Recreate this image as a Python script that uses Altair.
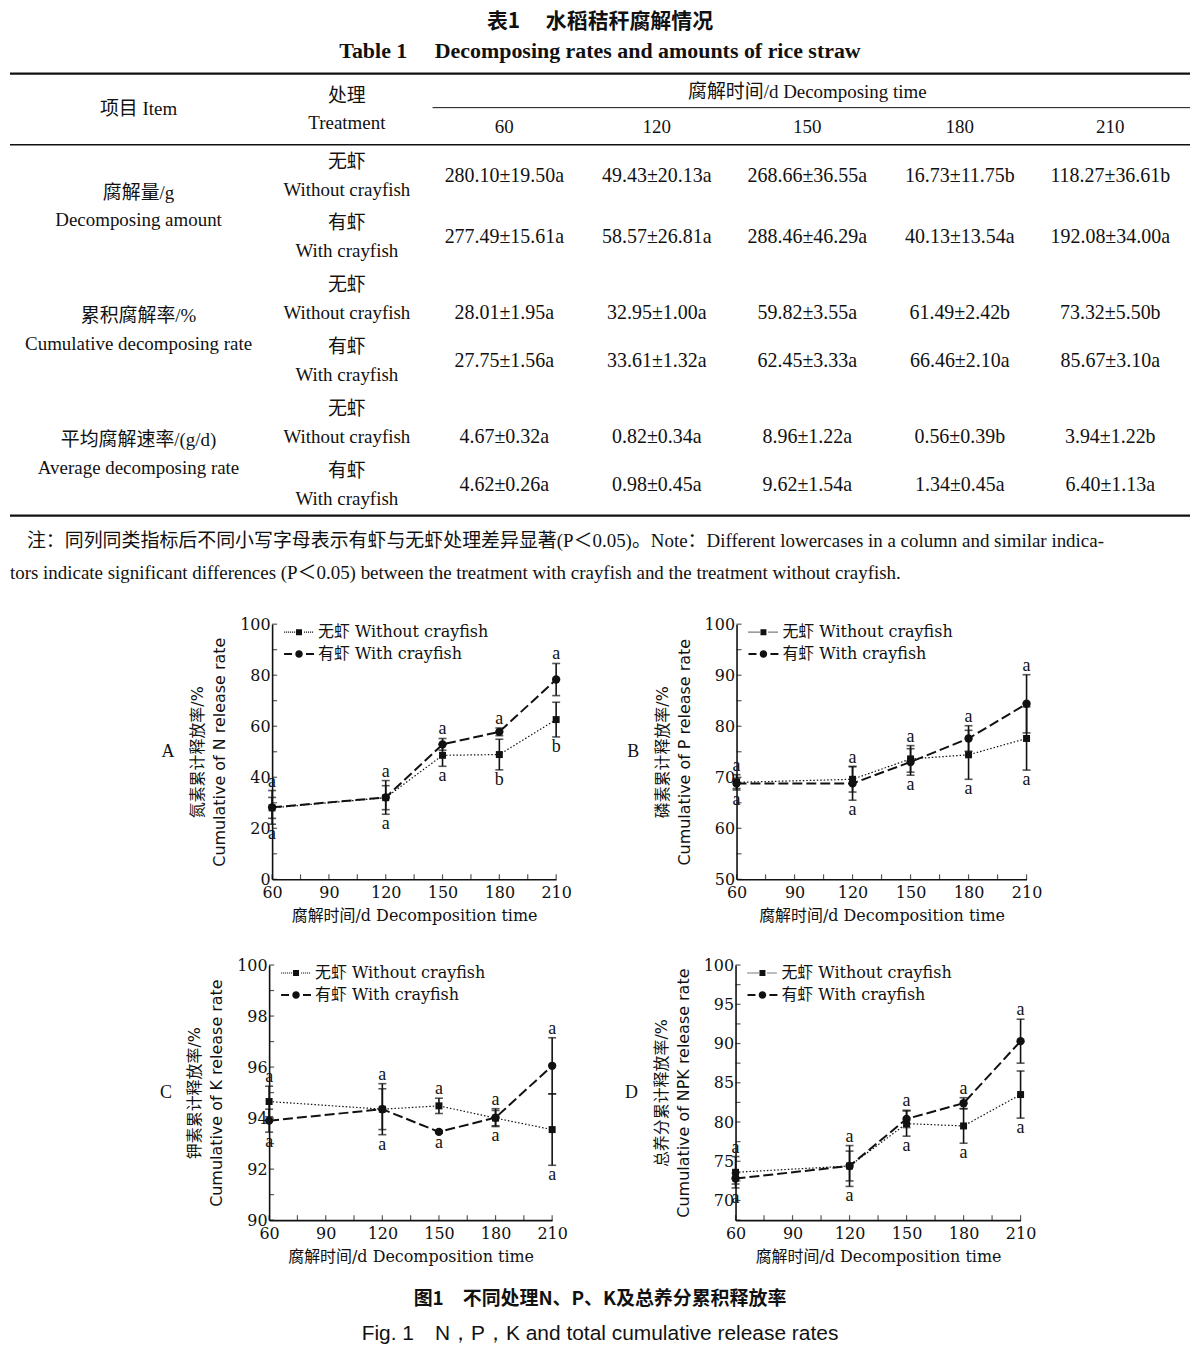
import altair as alt
import pandas as pd

# ====================== Table 1 data ======================
days = [60, 120, 150, 180, 210]
table_title_cn = "表1　 水稻秸秆腐解情况"
table_title_en = "Table 1　 Decomposing rates and amounts of rice straw"
head_item = "项目 Item"
head_treat = ["处理", "Treatment"]
head_time = "腐解时间/d Decomposing time"
item_cn = ["腐解量/g", "累积腐解率/%", "平均腐解速率/(g/d)"]
item_en = ["Decomposing amount", "Cumulative decomposing rate", "Average decomposing rate"]
treat_cn = ["无虾", "有虾"]
treat_en = ["Without crayfish", "With crayfish"]
amount_without = ["280.10±19.50a", "49.43±20.13a", "268.66±36.55a", "16.73±11.75b", "118.27±36.61b"]
amount_with = ["277.49±15.61a", "58.57±26.81a", "288.46±46.29a", "40.13±13.54a", "192.08±34.00a"]
cumrate_without = ["28.01±1.95a", "32.95±1.00a", "59.82±3.55a", "61.49±2.42b", "73.32±5.50b"]
cumrate_with = ["27.75±1.56a", "33.61±1.32a", "62.45±3.33a", "66.46±2.10a", "85.67±3.10a"]
avgrate_without = ["4.67±0.32a", "0.82±0.34a", "8.96±1.22a", "0.56±0.39b", "3.94±1.22b"]
avgrate_with = ["4.62±0.26a", "0.98±0.45a", "9.62±1.54a", "1.34±0.45a", "6.40±1.13a"]
note_line1 = "注：同列同类指标后不同小写字母表示有虾与无虾处理差异显著(P＜0.05)。Note：Different lowercases in a column and similar indica-"
note_line2 = "tors indicate significant differences (P＜0.05) between the treatment with crayfish and the treatment without crayfish."

# ====================== Figure 1 data ======================
series_names = ["无虾 Without crayfish", "有虾 With crayfish"]
# A: N
n_without = [28.0, 32.0, 48.6, 48.9, 62.6]
n_without_err = [4.1, 4.7, 4.3, 6.0, 6.8]
n_with = [28.2, 32.1, 52.9, 57.8, 78.3]
n_with_err = [6.6, 6.6, 2.3, 1.5, 6.3]
n_top_letters = ["a", "a", "a", "a", "a"]
n_bottom_letters = ["a", "a", "a", "b", "b"]
# B: P
p_without = [69.0, 69.6, 73.6, 74.4, 77.6]
p_without_err = [1.5, 2.5, 2.6, 4.8, 6.2]
p_with = [68.8, 68.8, 73.0, 77.6, 84.4]
p_with_err = [1.0, 3.3, 2.6, 2.5, 5.7]
p_top_letters = ["a", "a", "a", "a", "a"]
p_bottom_letters = ["a", "a", "a", "a", "a"]
# C: K
k_without = [94.65, 94.35, 94.48, 94.0, 93.55]
k_without_err = [0.6, 0.8, 0.3, 0.3, 1.4]
k_with = [93.9, 94.35, 93.46, 94.02, 96.05]
k_with_err = [0.45, 1.0, 0.05, 0.35, 1.1]
k_top_letters = ["a", "a", "a", "a", "a"]
k_bottom_letters = ["a", "a", "a", "a", "a"]
# D: total NPK
t_without = [73.6, 74.4, 79.8, 79.5, 83.5]
t_without_err = [2.0, 1.9, 1.6, 2.2, 3.0]
t_with = [72.8, 74.4, 80.4, 82.4, 90.3]
t_with_err = [0.7, 2.6, 1.1, 0.7, 2.8]
t_top_letters = ["a", "a", "a", "a", "a"]
t_bottom_letters = ["a", "a", "a", "a", "a"]

fig_title_cn = "图1　不同处理N、P、K及总养分累积释放率"
fig_title_en = "Fig. 1　N，P，K and total cumulative release rates"
x_title = "腐解时间/d  Decomposition time"

# ====================== styles / layout ======================
SERIF = "DejaVu Serif, Noto Sans CJK SC"
TSERIF = "Liberation Serif, Noto Sans CJK SC"
SANS = "DejaVu Sans, Noto Sans CJK SC"
CJK = "Noto Sans CJK SC"
INK = "#111111"

TABLE_W, TABLE_H = 1184, 506
ROW_TOP, ROW_BOT = -0.66, 7.5
COL_ITEM, COL_TREAT, COL_SPAN = 129, 338, 800
COL_VALUES = [496, 649, 800, 953, 1104]
COL_NOTE1, COL_NOTE2 = 17, 0
SUBRULE_X0 = 424
VALUE_ON_LOWER_LINE = [False, False, True, False, True, False]

# ---------------------- table chart ----------------------
TX = alt.X("x:Q", scale=alt.Scale(domain=[0, TABLE_W], nice=False, zero=False), axis=None)
TY = alt.Y("row:Q", scale=alt.Scale(domain=[ROW_TOP, ROW_BOT], reverse=True, nice=False, zero=False), axis=None)


def tlayer(items, dy=0, size=19, align="center", font=TSERIF, weight="normal"):
    df = pd.DataFrame(items, columns=["x", "row", "text"])
    return alt.Chart(df).mark_text(
        dy=dy, align=align, baseline="middle", font=font, fontSize=size,
        fontWeight=weight, color=INK
    ).encode(x=TX, y=TY, text="text:N")


body_values = [amount_without, amount_with, cumrate_without, cumrate_with, avgrate_without, avgrate_with]
vals_mid, vals_low = [], []
for r, vals in enumerate(body_values):
    for c, v in enumerate(vals):
        (vals_low if VALUE_ON_LOWER_LINE[r] else vals_mid).append((COL_VALUES[c], r + 1, v))

layers_t = [
    tlayer([(COL_ITEM, 0, head_item)], dy=-5),
    tlayer([(COL_TREAT, 0, head_treat[0])], dy=-18),
    tlayer([(COL_TREAT, 0, head_treat[1])], dy=9),
    tlayer([(COL_SPAN, 0, head_time)], dy=-22),
    tlayer([(COL_VALUES[i], 0, str(d)) for i, d in enumerate(days)], dy=13),
    tlayer([(COL_TREAT, r + 1, treat_cn[r % 2]) for r in range(6)], dy=-14),
    tlayer([(COL_TREAT, r + 1, treat_en[r % 2]) for r in range(6)], dy=14),
    tlayer([(COL_ITEM, 2 * g + 1.5, item_cn[g]) for g in range(3)], dy=-14),
    tlayer([(COL_ITEM, 2 * g + 1.5, item_en[g]) for g in range(3)], dy=14),
    tlayer(vals_mid, dy=0, size=20),
    tlayer(vals_low, dy=14, size=20),
    tlayer([(COL_NOTE1, 7, note_line1)], dy=-5, align="left"),
    tlayer([(COL_NOTE2, 7, note_line2)], dy=27, align="left"),
]


def rule_layer(x0, x1, row, width):
    df = pd.DataFrame({"x": [x0], "x2": [x1], "row": [row]})
    return alt.Chart(df).mark_rule(color=INK, strokeWidth=width).encode(
        x=TX, x2="x2:Q", y=TY)


layers_t += [
    rule_layer(0, TABLE_W, -0.65, 2.2),
    rule_layer(SUBRULE_X0, TABLE_W, -0.1, 1.0),
    rule_layer(0, TABLE_W, 0.5, 1.4),
    rule_layer(0, TABLE_W, 6.5, 2.2),
]

table = alt.layer(*layers_t).properties(
    width=TABLE_W, height=TABLE_H,
    title=alt.TitleParams(
        text=table_title_cn, subtitle=table_title_en, anchor="middle",
        font=CJK, fontSize=21, fontWeight="bold", color=INK,
        subtitleFont="Liberation Serif", subtitleFontSize=22, subtitleFontWeight="bold",
        subtitleColor=INK, subtitlePadding=9, offset=11,
    ),
)

# ---------------------- legend symbols (style) ----------------------

def dots(x0, x1, step=0.4, w=0.22, h=0.11):
    parts, x = [], x0
    while x <= x1 + 1e-9:
        parts.append(f"M{x:.2f},{-h:.2f}h{w}v{2 * h}h{-w}z")
        x += step
    return "".join(parts)


PATH_DOT = dots(-3.0, -1.0) + "M-0.6,-0.6h1.2v1.2h-1.2z" + dots(1.0, 2.8)
PATH_DASH = ("M-3,-0.2h1.6v0.4h-1.6z"
             "M0.75,0A0.75,0.75,0,1,1,-0.75,0A0.75,0.75,0,1,1,0.75,0z"
             "M1.4,-0.2h1.6v0.4h-1.6z")


def panel(label, wo, wo_err, wi, wi_err, top_letters, bottom_letters,
          ydomain, ylabels, yticks, ytitle, width, height):
    data = pd.DataFrame({
        "day": days * 2,
        "series": [series_names[0]] * 5 + [series_names[1]] * 5,
        "value": wo + wi,
        "err": wo_err + wi_err,
    })
    data["lo"] = data["value"] - data["err"]
    data["hi"] = data["value"] + data["err"]
    lets = pd.DataFrame({
        "day": days,
        "top": [max(a + ea, b + eb) for a, ea, b, eb in zip(wo, wo_err, wi, wi_err)],
        "bottom": [min(a - ea, b - eb) for a, ea, b, eb in zip(wo, wo_err, wi, wi_err)],
        "tl": top_letters,
        "bl": bottom_letters,
    })
    xticks = list(range(60, 211, 15))
    xaxis = alt.Axis(
        values=[60, 90, 120, 150, 180, 210], ticks=False, tickSize=0, grid=False,
        domainColor=INK, domainWidth=1.6, labelFont=SERIF, labelFontSize=16,
        labelColor=INK, labelPadding=5, labelFlush=False, labelOverlap=False,
        title=x_title, titleFont=SERIF, titleFontSize=16, titleFontWeight="normal",
        titleColor=INK, titlePadding=7,
    )
    yaxis = alt.Axis(
        values=ylabels, ticks=False, tickSize=0, grid=False,
        domainColor=INK, domainWidth=1.6, labelFont=SERIF, labelFontSize=16,
        labelColor=INK, labelPadding=2, labelFlush=False, labelOverlap=False,
        title=ytitle, titleFont=SANS, titleFontSize=16, titleFontWeight="normal",
        titleColor=INK, titlePadding=12, titleLineHeight=22,
    )
    xs = alt.Scale(domain=[60, 210], nice=False, zero=False)
    ys = alt.Scale(domain=ydomain, nice=False, zero=False)

    def X(f="day"):
        return alt.X(f"{f}:Q", scale=xs, axis=xaxis)

    def Y(f):
        return alt.Y(f"{f}:Q", scale=ys, axis=yaxis)

    base = alt.Chart(data)
    wo_only = base.transform_filter(alt.datum.series == series_names[0])
    wi_only = base.transform_filter(alt.datum.series == series_names[1])

    line_wo = wo_only.mark_line(color=INK, strokeWidth=1.2, strokeDash=[1.5, 2]).encode(x=X(), y=Y("value"))
    line_wi = wi_only.mark_line(color=INK, strokeWidth=2, strokeDash=[10, 4]).encode(x=X(), y=Y("value"))
    bars = base.mark_rule(color=INK, strokeWidth=1.6).encode(x=X(), y=Y("lo"), y2="hi:Q")
    cap_lo = base.mark_tick(color=INK, orient="horizontal", size=8, thickness=1.6).encode(x=X(), y=Y("lo"))
    cap_hi = base.mark_tick(color=INK, orient="horizontal", size=8, thickness=1.6).encode(x=X(), y=Y("hi"))
    sq = wo_only.mark_square(color=INK, size=49, opacity=1).encode(x=X(), y=Y("value"))
    ci = wi_only.mark_circle(color=INK, size=70, opacity=1).encode(x=X(), y=Y("value"))

    lt = alt.Chart(lets).mark_text(dy=-9, font=TSERIF, fontSize=18, color=INK, baseline="middle").encode(
        x=X(), y=Y("top"), text="tl:N")
    lb = alt.Chart(lets).mark_text(dy=10, font=TSERIF, fontSize=18, color=INK, baseline="middle").encode(
        x=X(), y=Y("bottom"), text="bl:N")

    ytk = pd.DataFrame({"day": [60] * len(yticks), "value": yticks})
    xtk = pd.DataFrame({"day": xticks, "value": [ydomain[0]] * len(xticks)})
    ytick_layer = alt.Chart(ytk).mark_tick(color=INK, orient="horizontal", size=5, thickness=1.2, xOffset=2.5).encode(
        x=X(), y=Y("value"))
    xtick_layer = alt.Chart(xtk).mark_tick(color=INK, orient="vertical", size=5, thickness=1.2, yOffset=-2.5).encode(
        x=X(), y=Y("value"))

    leg = alt.Chart(pd.DataFrame({"series": series_names})).mark_point(
        filled=True, color=INK, opacity=0).encode(
        shape=alt.Shape("series:N", scale=alt.Scale(domain=series_names, range=[PATH_DOT, PATH_DASH]),
                        legend=alt.Legend(title=None, orient="none", legendX=19, legendY=0,
                                          symbolSize=100, symbolOpacity=1, symbolFillColor=INK,
                                          symbolStrokeWidth=0, labelOffset=11, rowPadding=6,
                                          padding=0, labelFont=SERIF, labelFontSize=16,
                                          labelColor=INK, labelLimit=400))
    )

    return alt.layer(line_wo, line_wi, bars, cap_lo, cap_hi, sq, ci, lt, lb,
                     ytick_layer, xtick_layer, leg).properties(
        width=width, height=height,
        title=alt.TitleParams(label, orient="left", angle=0, anchor="middle", baseline="middle",
                              offset=9, font="Liberation Serif", fontSize=18,
                              fontWeight="normal", color=INK),
    )


def spacer(w):
    # empty, invisible cell that only reserves horizontal room on the left of a row
    return alt.Chart(pd.DataFrame({"v": [0]})).mark_point(opacity=0, size=4).encode(
        x=alt.value(5), y=alt.value(5)).properties(width=w, height=10)


pA = panel("A", n_without, n_without_err, n_with, n_with_err, n_top_letters, n_bottom_letters,
           [0, 100], [0, 20, 40, 60, 80, 100], list(range(0, 101, 10)),
           ["氮素累计释放率/%", "Cumulative of N release rate"], 285, 256)
pB = panel("B", p_without, p_without_err, p_with, p_with_err, p_top_letters, p_bottom_letters,
           [50, 100], [50, 60, 70, 80, 90, 100], list(range(50, 101, 5)),
           ["磷素累计释放率/%", "Cumulative of  P release rate"], 291, 256)
pC = panel("C", k_without, k_without_err, k_with, k_with_err, k_top_letters, k_bottom_letters,
           [90, 100], [90, 92, 94, 96, 98, 100], list(range(90, 101, 1)),
           ["钾素累计释放率/%", "Cumulative of  K  release rate"], 284, 256)
pD = panel("D", t_without, t_without_err, t_with, t_with_err, t_top_letters, t_bottom_letters,
           [67.5, 100], [70, 75, 80, 85, 90, 95, 100], [67.5 + 2.5 * i for i in range(14)],
           ["总养分累计释放率/%", "Cumulative of  NPK release rate"], 286, 256)

row1 = alt.hconcat(spacer(96), pA, pB, spacing=55).resolve_scale(
    shape="independent").resolve_legend(shape="independent")
row2 = alt.hconcat(spacer(94), pC, pD, spacing=56).resolve_scale(
    shape="independent").resolve_legend(shape="independent")

figure = alt.vconcat(row1, row2, spacing=34).resolve_scale(
    shape="independent").resolve_legend(shape="independent")

chart = alt.vconcat(table, figure, spacing=33).resolve_scale(
    shape="independent").resolve_legend(shape="independent").properties(
    padding=0, background="white",
    title=alt.TitleParams(
        text=fig_title_cn, subtitle=fig_title_en, orient="bottom", anchor="middle",
        font=CJK, fontSize=19, fontWeight="bold", color=INK,
        subtitleFont="Liberation Sans", subtitleFontSize=21, subtitleColor=INK,
        subtitlePadding=14, offset=26,
    ),
).configure_view(stroke=None)

chart.save("out.html", embed_options={"renderer": "svg", "actions": False})
